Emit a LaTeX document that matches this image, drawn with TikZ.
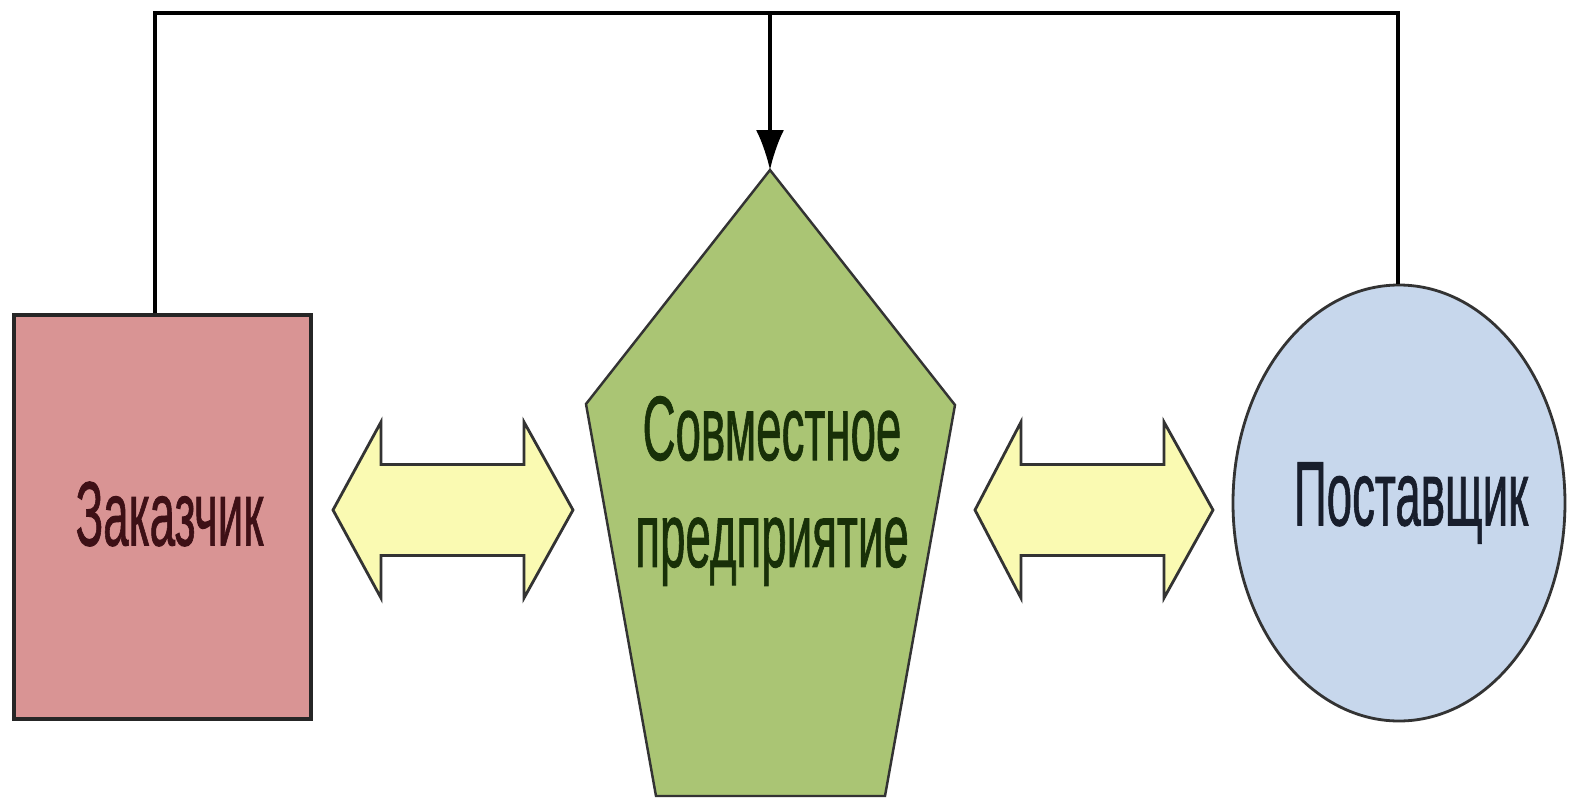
\documentclass[tikz,border=0pt]{standalone}
\usepackage{fontspec}
\setmainfont{Liberation Sans}
\newfontfamily\lblfont[FakeBold=1.2]{Liberation Sans}
\usepackage{graphicx}
\usetikzlibrary{shapes.geometric,arrows.meta}
\definecolor{zakfill}{RGB}{217,148,148}
\definecolor{spfill}{RGB}{170,197,116}
\definecolor{postfill}{RGB}{199,215,236}
\definecolor{arrfill}{RGB}{250,250,178}
\definecolor{zaktext}{RGB}{62,16,22}
\definecolor{sptext}{RGB}{24,48,8}
\definecolor{posttext}{RGB}{24,30,44}
\newcommand{\sqz}[1]{\scalebox{0.5}[1]{#1}}
\tikzset{
  lbl/.style={font=\lblfont\fontsize{26}{30.4}\selectfont, align=center, inner sep=0pt},
  link/.style={line width=0.9pt, black},
  dbl/.style={draw=black!80, line width=0.8pt, fill=arrfill, line join=miter},
}
\begin{document}
\begin{tikzpicture}
\useasboundingbox (0,0) rectangle (15.69,-7.99);
\node[draw=black!85, line width=1pt, fill=zakfill, minimum width=2.97cm, minimum height=4.04cm] (zak) at (1.625,-5.17) {};
\node[lbl, text=zaktext] (zaklbl) at ([xshift=0.7mm, yshift=0.3mm]zak.center) {\sqz{Заказчик}};
\node[ellipse, draw=black!80, line width=0.8pt, fill=postfill, minimum width=3.32cm, minimum height=4.36cm] (post) at (13.99,-5.03) {};
\node[lbl, text=posttext] (postlbl) at ([xshift=1.2mm]post.center) {\sqz{Поставщик}};
\coordinate (apex) at (7.70,-1.70);
\filldraw[draw=black!80, line width=0.7pt, fill=spfill] (apex) -- (9.55,-4.05) -- (8.85,-7.96) -- (6.56,-7.96) -- (5.86,-4.04) -- cycle;
\node[lbl, text=sptext] (sp) at (7.72,-4.91) {\sqz{Совместное}\\\sqz{предприятие}};
\filldraw[dbl] (3.33,-5.10) -- ++(0.48,0.88) -- ++(0,-0.425) -- ++(1.43,0) -- ++(0,0.425) -- ++(0.49,-0.88) -- ++(-0.49,-0.88) -- ++(0,0.425) -- ++(-1.43,0) -- ++(0,-0.425) -- cycle;
\filldraw[dbl] (9.75,-5.10) -- ++(0.46,0.88) -- ++(0,-0.425) -- ++(1.43,0) -- ++(0,0.425) -- ++(0.49,-0.88) -- ++(-0.49,-0.88) -- ++(0,0.425) -- ++(-1.43,0) -- ++(0,-0.425) -- cycle;
\coordinate (tl) at (1.55,-0.13);
\coordinate (tr) at (13.98,-0.13);
\draw[link] (zak.north -| tl) -- (tl) -- (tr) -- (post.north -| tr);
\draw[link, -{Latex[length=4mm,width=2.8mm]}] (apex |- tl) -- (apex);
\end{tikzpicture}
\end{document}
